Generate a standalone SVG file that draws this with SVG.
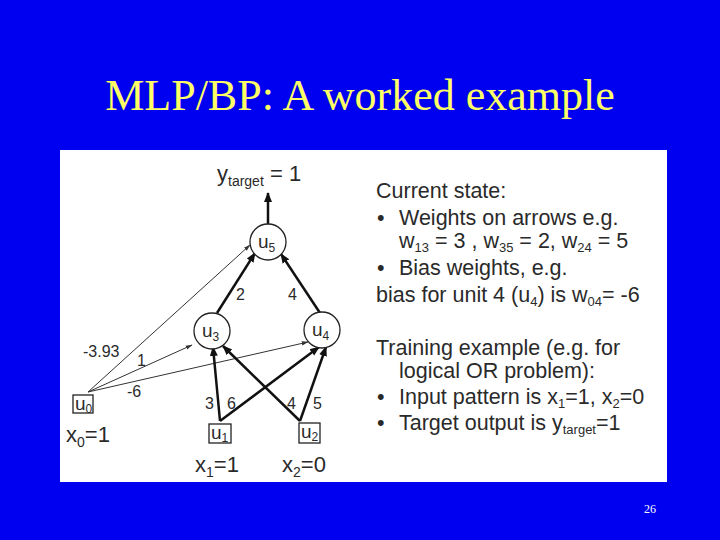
<svg xmlns="http://www.w3.org/2000/svg" width="720" height="540" viewBox="0 0 720 540">
<style>
.t{font-family:"Liberation Sans",Arial,sans-serif;fill:#2a2a2a}
.s{font-size:12px}
.thin{stroke:#333;stroke-width:1;fill:none}
.thick{stroke:#111;stroke-width:2.5;fill:none}
.n{fill:#fff;stroke:#222;stroke-width:1.3}
</style>
<defs>
<marker id="a" viewBox="0 0 10 10" refX="9" refY="5" markerWidth="4" markerHeight="4" orient="auto"><path d="M0,1 L10,5 L0,9 z" fill="#111"/></marker>
<marker id="b" viewBox="0 0 10 10" refX="9" refY="5" markerWidth="7" markerHeight="7" orient="auto"><path d="M0,2 L10,5 L0,8 z" fill="#333"/></marker>
</defs>
<rect width="720" height="540" fill="#0000f0"/>
<text x="360" y="110" text-anchor="middle" font-family="Liberation Serif,serif" font-size="44" fill="#ffff66">MLP/BP: A worked example</text>
<rect x="60" y="150" width="607" height="332" fill="#fff"/>
<g id="connectors">
<line class="thin" x1="88" y1="392" x2="250" y2="245" marker-end="url(#b)"/>
<line class="thin" x1="88" y1="392" x2="192" y2="345" marker-end="url(#b)"/>
<line class="thin" x1="88" y1="392" x2="308" y2="342" marker-end="url(#b)"/>
<line class="thick" x1="268" y1="224" x2="268" y2="193" marker-end="url(#a)"/>
<line class="thick" x1="217" y1="313" x2="255" y2="253" marker-end="url(#a)"/>
<line class="thick" x1="320" y1="313" x2="281" y2="254" marker-end="url(#a)"/>
<line class="thick" x1="220" y1="421" x2="213" y2="347" marker-end="url(#a)"/>
<line class="thick" x1="220" y1="421" x2="319" y2="347" marker-end="url(#a)"/>
<line class="thick" x1="300" y1="421" x2="223" y2="346" marker-end="url(#a)"/>
<line class="thick" x1="300" y1="421" x2="326" y2="347" marker-end="url(#a)"/>
</g>
<g id="u5"><circle class="n" cx="268" cy="242" r="18"/><text class="t" x="258" y="248" font-size="19">u<tspan class="s" dy="4">5</tspan></text></g>
<g id="u3"><circle class="n" cx="212" cy="331" r="18"/><text class="t" x="202" y="337" font-size="19">u<tspan class="s" dy="4">3</tspan></text></g>
<g id="u4"><circle class="n" cx="322" cy="330" r="18"/><text class="t" x="312" y="336" font-size="19">u<tspan class="s" dy="4">4</tspan></text></g>
<g id="u0"><rect class="n" x="73" y="395" width="20" height="18"/><text class="t" x="75" y="410" font-size="19">u<tspan class="s" dy="3">0</tspan></text><text class="t" x="66" y="442" font-size="22">x<tspan dy="5" font-size="14">0</tspan><tspan dy="-5">=1</tspan></text></g>
<g id="u1"><rect class="n" x="209" y="424" width="22" height="19"/><text class="t" x="211" y="439" font-size="19">u<tspan class="s" dy="3">1</tspan></text><text class="t" x="195" y="472" font-size="22">x<tspan dy="5" font-size="14">1</tspan><tspan dy="-5">=1</tspan></text></g>
<g id="u2"><rect class="n" x="299" y="423" width="21" height="20"/><text class="t" x="301" y="438" font-size="19">u<tspan class="s" dy="3">2</tspan></text><text class="t" x="282" y="472" font-size="22">x<tspan dy="5" font-size="14">2</tspan><tspan dy="-5">=0</tspan></text></g>
<g id="ytarget"><text class="t" x="217" y="181" font-size="22">y<tspan dy="5" font-size="14">target</tspan><tspan dy="-5"> = 1</tspan></text></g>
<g id="labels" font-size="16">
<text class="t" x="236" y="300">2</text>
<text class="t" x="288" y="300">4</text>
<text class="t" x="83" y="357">-3.93</text>
<text class="t" x="137" y="366">1</text>
<text class="t" x="127" y="397">-6</text>
<text class="t" x="205" y="409">3</text>
<text class="t" x="227" y="409">6</text>
<text class="t" x="287" y="409">4</text>
<text class="t" x="313" y="409">5</text>
</g>
<g id="notes" font-size="21.5">
<text class="t" x="376" y="198">Current state:</text>
<text class="t" x="377" y="225">•</text><text class="t" x="399" y="225">Weights on arrows  e.g.</text>
<text class="t" x="399" y="248">w<tspan dy="4" font-size="13">13</tspan><tspan dy="-4"> = 3 , w</tspan><tspan dy="4" font-size="13">35</tspan><tspan dy="-4"> = 2, w</tspan><tspan dy="4" font-size="13">24</tspan><tspan dy="-4"> = 5</tspan></text>
<text class="t" x="377" y="275">•</text><text class="t" x="399" y="275">Bias weights, e.g.</text>
<text class="t" x="376" y="302">bias for unit 4 (u<tspan dy="4" font-size="13">4</tspan><tspan dy="-4">) is w</tspan><tspan dy="4" font-size="13">04</tspan><tspan dy="-4">= -6</tspan></text>
<text class="t" x="376" y="355">Training example (e.g. for</text>
<text class="t" x="399" y="378">logical OR problem):</text>
<text class="t" x="377" y="404">•</text><text class="t" x="399" y="404">Input pattern is x<tspan dy="4" font-size="13">1</tspan><tspan dy="-4">=1, x</tspan><tspan dy="4" font-size="13">2</tspan><tspan dy="-4">=0</tspan></text>
<text class="t" x="377" y="430">•</text><text class="t" x="399" y="430">Target output is y<tspan dy="4" font-size="13">target</tspan><tspan dy="-4">=1</tspan></text>
</g>
<text x="650" y="513" font-family="Liberation Serif,serif" font-size="12" fill="#fff" text-anchor="middle">26</text>
</svg>
